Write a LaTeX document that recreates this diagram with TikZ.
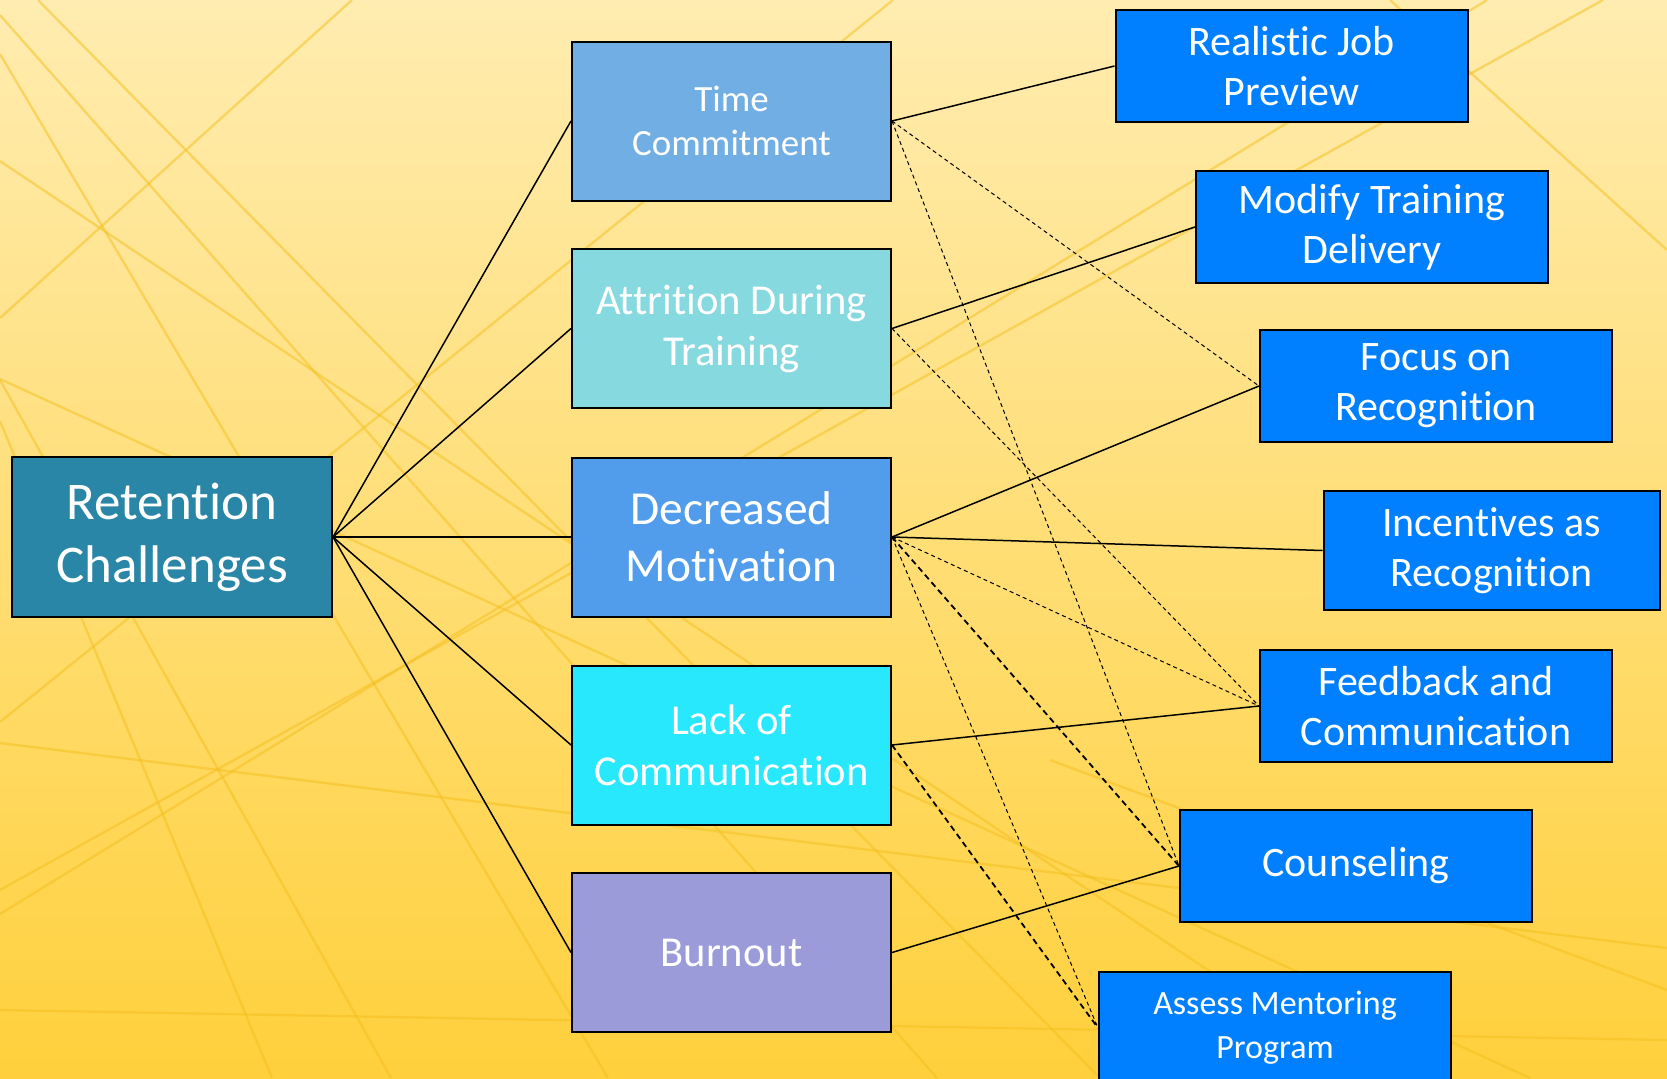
\documentclass[tikz,border=0pt]{standalone}
\usepackage{fontspec}
\setmainfont{Carlito}[Ligatures={NoCommon,NoContextual},Contextuals=NoAlternate]
\definecolor{bgtop}{RGB}{255,236,176}
\definecolor{bgbottom}{RGB}{255,208,60}
\definecolor{bgline}{RGB}{245,192,30}
\definecolor{rcteal}{RGB}{42,134,166}
\definecolor{tcblue}{RGB}{113,174,228}
\definecolor{atcyan}{RGB}{134,217,222}
\definecolor{dmblue}{RGB}{82,157,235}
\definecolor{lccyan}{RGB}{40,232,253}
\definecolor{bopurple}{RGB}{155,155,218}
\definecolor{remblue}{RGB}{0,128,255}
\tikzset{
  box/.style={draw=black, line width=1pt, text=white, align=center, inner sep=2pt},
  challenge/.style={box, minimum width=159.5pt, minimum height=79.5pt},
  remedy/.style={box, fill=remblue, minimum width=176pt, minimum height=56pt,
    font=\fontsize{21}{25}\selectfont},
  link/.style={line width=0.75pt},
  hint/.style={line width=0.5pt, dash pattern=on 2pt off 1.6pt},
  boldhint/.style={line width=0.9pt, dash pattern=on 3pt off 2pt},
  bgstroke/.style={bgline, line width=1.2pt, opacity=0.5}
}
\begin{document}
\begin{tikzpicture}[x=0.5pt,y=-0.5pt]
  \useasboundingbox (0,0) rectangle (1667,1078);
  \clip (0,0) rectangle (1667,1078);
  % background
  \shade[top color=bgtop, bottom color=bgbottom] (0,0) rectangle (1667,1078);
  \draw[bgstroke] (0,15) -- (937,1078);
  \draw[bgstroke] (38,0) -- (1100,1078);
  \draw[bgstroke] (0,54) -- (608,1078);
  \draw[bgstroke] (0,161) -- (1369,1078);
  \draw[bgstroke] (0,318) -- (352,0);
  \draw[bgstroke] (0,379) -- (1530,1078);
  \draw[bgstroke] (0,421) -- (272,1078);
  \draw[bgstroke] (0,722) -- (893,0);
  \draw[bgstroke] (0,914) -- (1487,0);
  \draw[bgstroke] (0,743) -- (1667,948);
  \draw[bgstroke] (0,890) -- (1603,0);
  \draw[bgstroke] (0,380) -- (391,1078);
  \draw[bgstroke] (1667,250) -- (1390,0);
  \draw[bgstroke] (1667,990) -- (1050,760);
  \draw[bgstroke] (0,1010) -- (1667,1040);

  % challenges
  \node[box, fill=rcteal, minimum width=160pt, minimum height=80pt,
    font=\fontsize{26.5}{31.5}\selectfont] (rc) at (172,537) {Retention\\Challenges};
  \node[challenge, fill=tcblue, font=\fontsize{18.5}{22}\selectfont] (tc) at (731.5,121) {Time\\Commitment};
  \node[challenge, fill=atcyan, font=\fontsize{21.3}{25.5}\selectfont] (at) at (731.5,328.5) {Attrition During\\Training};
  \node[challenge, fill=dmblue, font=\fontsize{23.7}{28.5}\selectfont] (dm) at (731.5,537) {Decreased\\Motivation};
  \node[challenge, fill=lccyan, font=\fontsize{21.3}{25.5}\selectfont] (lc) at (731.5,745) {Lack of\\Communication};
  \node[challenge, fill=bopurple, font=\fontsize{21.3}{25.5}\selectfont] (bo) at (731.5,952.5) {Burnout};

  % remedies
  \node[remedy] (rjp) at (1291.5,66) {Realistic Job\\Preview};
  \node[remedy] (mtd) at (1372,227) {Modify Training\\Delivery};
  \node[remedy] (for) at (1436,386) {Focus on\\Recognition};
  \node[remedy, minimum width=168pt, minimum height=59.5pt] (iar) at (1491.5,550.5) {Incentives as\\Recognition};
  \node[remedy] (fac) at (1436,706) {Feedback and\\Communication};
  \node[remedy] (cou) at (1356,866) {Counseling};
  \node[remedy, font=\fontsize{17}{22}\selectfont] (amp) at (1275,1028) {Assess Mentoring\\Program};

  % links
  \foreach \c in {tc,at,dm,lc,bo}
    \draw[link] (rc.east) -- (\c.west);
  \draw[link] (tc.east) -- (rjp.west);
  \draw[link] (at.east) -- (mtd.west);
  \draw[link] (dm.east) -- (for.west);
  \draw[link] (dm.east) -- (iar.west);
  \draw[link] (lc.east) -- (fac.west);
  \draw[link] (bo.east) -- (cou.west);
  \draw[hint] (tc.east) -- (for.west);
  \draw[hint] (tc.east) -- (cou.west);
  \draw[hint] (at.east) -- (fac.west);
  \draw[hint] (dm.east) -- (fac.west);
  \draw[hint] (dm.east) -- (amp.west);
  \draw[boldhint] (dm.east) -- (cou.west);
  \draw[boldhint] (lc.east) -- (amp.west);
\end{tikzpicture}
\end{document}
